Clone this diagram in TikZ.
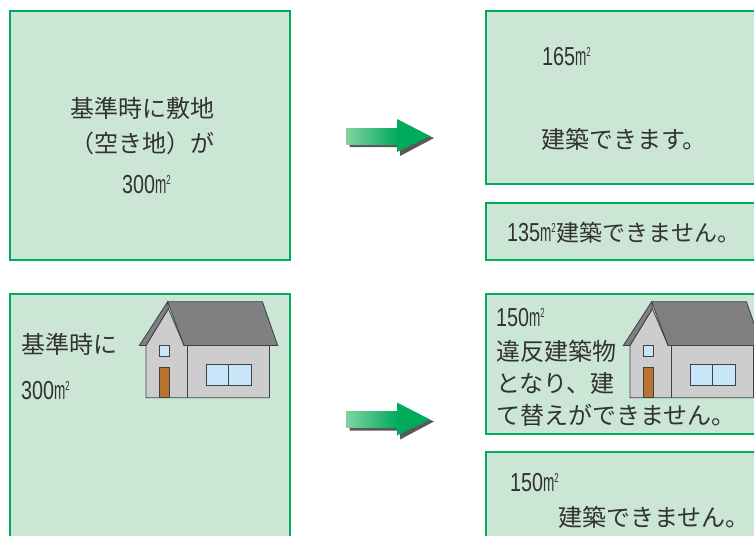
\documentclass[tikz,border=0pt]{standalone}
\usepackage{fontspec}
\setmainfont{Noto Sans CJK JP}
\newfontfamily\numfont[FakeStretch=0.76]{Liberation Sans}
\newfontfamily\unitfont[FakeStretch=0.52]{Liberation Sans}
\newfontfamily\supfont[FakeStretch=0.6]{Liberation Sans}
\usepackage{xcolor}
\usetikzlibrary{positioning}
\definecolor{boxgreen}{RGB}{0,172,92}
\definecolor{boxfill}{RGB}{204,230,213}
\definecolor{inkgray}{RGB}{50,50,50}
\definecolor{arrowlight}{RGB}{130,210,160}
\definecolor{wallgray}{RGB}{205,205,208}
\definecolor{roofgray}{RGB}{128,128,130}
\definecolor{glassblue}{RGB}{200,230,250}
\definecolor{doorbrown}{RGB}{184,115,48}
\newcommand{\areatxt}[1]{{\fontsize{26}{26}\selectfont\numfont #1\unitfont m\smash{\raisebox{9pt}{\fontsize{13}{13}\selectfont\supfont 2}}}}
\begin{document}
\begin{tikzpicture}[
    x = 1pt,
    y = -1pt,
    areabox/.style={
        rectangle, % shape
        inner sep = 0pt,
        draw = boxgreen,
        line width = 2.4pt, %border
        fill = boxfill
      },
    jptext/.style={
        inner sep = 0pt,
        text = inkgray,
        font=\fontsize{24}{24}\selectfont
      },
    linetext/.style={jptext, anchor = west},
    houseline/.style={draw = black!75, line width = 0.8pt},
    house/.pic={
        % walls
        \draw [houseline, fill = wallgray] (-21.7,43.7) -- (0.7,7) -- (16.3,43.7) -- (101.7,43.7) -- (101.7,96) -- (-21.7,96) -- cycle;
        \draw [houseline] (19.7,43.7) -- (19.7,96);
        % roof
        \draw [houseline, fill = roofgray] (0,0) -- (94.7,0) -- (110,43.7) -- (16.3,43.7) -- cycle;
        \draw [houseline, fill = roofgray] (0,0) -- (-28.3,43.7) -- (-21.7,43.7) -- (0.7,7) -- cycle;
        % windows and door
        \draw [houseline, fill = glassblue] (-8.3,44) rectangle (1.7,55);
        \draw [houseline, fill = doorbrown] (-8.3,66) rectangle (1.7,96);
        \draw [houseline, fill = glassblue] (38.3,62.7) rectangle (83.7,83.3);
        \draw [houseline] (60.7,62.7) -- (60.7,83.3);
      },
    bigarrow/.pic={
        \fill [black!65] (3.5,4) -- (54,4) -- (54,-13) -- (88,2) -- (54,20) -- (54,11) -- (3.5,11) -- cycle;
        \shade [left color = arrowlight, right color = boxgreen] (0,-8) rectangle (51,8);
        \fill [boxgreen] (51,-17) -- (84,0) -- (51,16) -- cycle;
      }]
  \useasboundingbox (0,0) rectangle (754,535);
  \clip (0,0) rectangle (754,535);

  % left column
  \node [areabox, minimum width = 280pt, minimum height = 249pt] (emptylot) at (150,135.5) {};
  \node [areabox, minimum width = 280pt, minimum height = 250pt] (builtlot) at (150,419) {};
  % right column
  \node [areabox, minimum width = 280pt, minimum height = 173pt] (canbuild) at (626,97.5) {};
  \node [areabox, minimum width = 280pt, minimum height = 57pt] (cannotbuild) at (626,231.5) {};
  \node [areabox, minimum width = 280pt, minimum height = 140pt] (violation) at (626,364) {};
  \node [areabox, minimum width = 280pt, minimum height = 100pt] (noroom) at (626,502) {};

  \pic at (346,136) {bigarrow};
  \pic at (346,419.5) {bigarrow};
  \pic at (167.7,301.7) {house};
  \pic at (651.7,301.7) {house};

  \node [linetext] (lotone) at (70,108) {基準時に敷地};
  \node [linetext] (lottwo) at (70,143) {（空き地）が};
  \node [linetext] (lotthree) at (122,185) {\areatxt{300}};

  \node [linetext] (builtone) at (21,344) {基準時に};
  \node [linetext] (builttwo) at (21,391) {\areatxt{300}};

  \node [linetext] (canone) at (542,57) {\areatxt{165}};
  \node [linetext] (cantwo) at (541,139) {建築できます。};
  \node [linetext] (cannotone) at (507,233) {\areatxt{135}\kern 1pt{\fontsize{23}{23}\selectfont 建築できません。}};

  \node [linetext] (vioone) at (496,318) {\areatxt{150}};
  \node [linetext] (viotwo) at (496,351) {違反建築物};
  \node [linetext] (viothree) at (496,383) {となり、建};
  \node [linetext] (viofour) at (496,415) {て替えができません。};

  \node [linetext] (nooone) at (510,483) {\areatxt{150}};
  \node [linetext] (nootwo) at (558,517) {建築できません。};
\end{tikzpicture}
\end{document}
